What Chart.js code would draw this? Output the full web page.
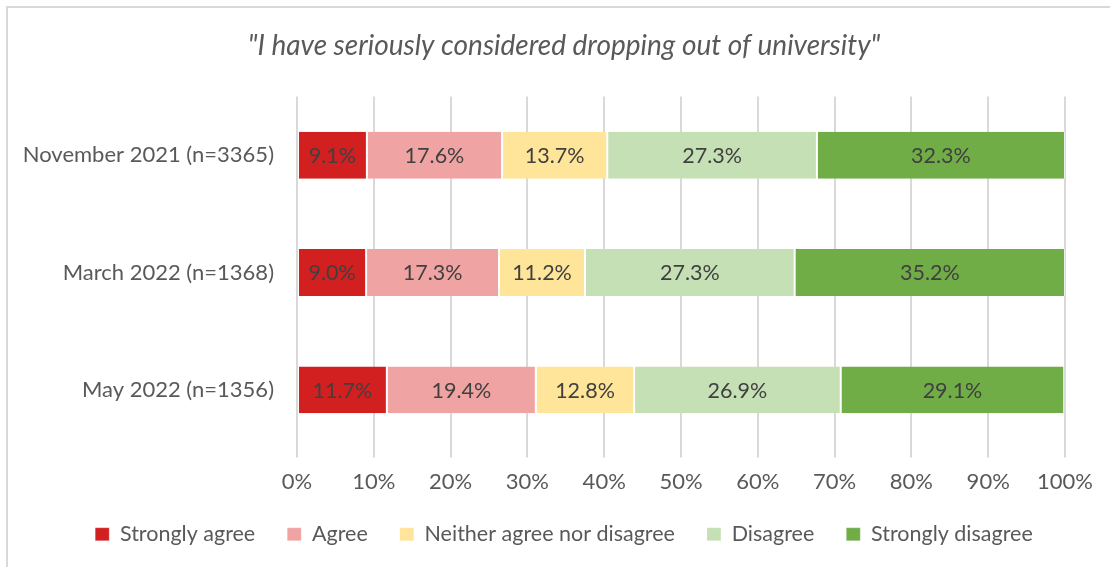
<!DOCTYPE html>
<html lang="en">
<head>
  <meta charset="UTF-8" />
  <title>Dropping out of university</title>
  <script src="https://cdn.jsdelivr.net/npm/chart.js"></script>
  <style>
    body {
      margin: 0;
      background: #fff;
    }
    .frame {
      position: absolute;
      left: 6px;
      top: 6px;
      width: 1104px;
      height: 561px;
      border-top: 2px solid #d9d9d9;
      border-left: 2px solid #d9d9d9;
      box-sizing: border-box;
    }
    .wrap {
      position: absolute;
      left: 0;
      top: 0;
      width: 1110px;
      height: 567px;
    }
  </style>
</head>
<body>
  <div class="frame"></div>
  <div class="wrap"><canvas id="chart"></canvas></div>

  <script>
    // Survey waves (top to bottom)
    const waves = ["November 2021 (n=3365)", "March 2022 (n=1368)", "May 2022 (n=1356)"];

    // Response shares in % per wave
    const stronglyAgree    = [9.1, 9.0, 11.7];
    const agree            = [17.6, 17.3, 19.4];
    const neither          = [13.7, 11.2, 12.8];
    const disagree         = [27.3, 27.3, 26.9];
    const stronglyDisagree = [32.3, 35.2, 29.1];

    const seriesNames  = ["Strongly agree", "Agree", "Neither agree nor disagree", "Disagree", "Strongly disagree"];
    const seriesValues = [stronglyAgree, agree, neither, disagree, stronglyDisagree];
    const seriesColors = ["#d21f20", "#f0a3a3", "#fee599", "#c5e0b4", "#70ad47"];

    const textGrey = "#595959";
    const fontFamily = "Lato, 'Open Sans', sans-serif";

    // draws the percentage text in the middle of every segment
    const barLabels = {
      id: "barLabels",
      afterDatasetsDraw(chart) {
        const ctx = chart.ctx;
        ctx.save();
        ctx.font = "21.5px " + fontFamily;
        ctx.fillStyle = "#404040";
        ctx.textAlign = "center";
        ctx.textBaseline = "middle";
        chart.data.datasets.forEach((ds, i) => {
          chart.getDatasetMeta(i).data.forEach((bar, j) => {
            const p = bar.getProps(["x", "y", "base"], true);
            ctx.fillText(ds.data[j].toFixed(1) + "%", (p.x + p.base) / 2, p.y + 1);
          });
        });
        ctx.restore();
      }
    };

    new Chart(document.getElementById("chart"), {
      type: "bar",
      data: {
        labels: waves,
        datasets: seriesNames.map((name, i) => ({
          label: name,
          data: seriesValues[i],
          backgroundColor: seriesColors[i],
          borderColor: "rgba(255,255,255,0.5)",
          borderWidth: { left: 1, right: 1 },
          borderSkipped: false,
          barPercentage: 0.4,
          categoryPercentage: 1
        }))
      },
      options: {
        indexAxis: "y",
        responsive: true,
        maintainAspectRatio: false,
        animation: false,
        layout: { padding: { left: 18, right: 0, top: 0, bottom: 12 } },
        scales: {
          x: {
            stacked: true,
            min: 0,
            max: 100,
            border: { display: false },
            grid: { color: "#d9d9d9", lineWidth: 2, tickLength: 9 },
            ticks: {
              stepSize: 10,
              padding: 11,
              color: textGrey,
              font: { size: 22, family: fontFamily },
              callback: v => v + "%"
            },
            afterFit(scale) { scale.height = 43; }
          },
          y: {
            stacked: true,
            border: { display: false },
            grid: { display: false, drawTicks: false },
            ticks: {
              padding: 23,
              color: textGrey,
              font: { size: 22, family: fontFamily }
            },
            afterFit(scale) { scale.width = 279; }
          },
          // empty right axis, only keeps space free right of the bars
          yRight: {
            position: "right",
            border: { display: false },
            grid: { display: false, drawTicks: false },
            ticks: { display: false },
            afterFit(scale) { scale.width = 45; }
          }
        },
        plugins: {
          title: {
            display: true,
            text: "\"I have seriously considered dropping out of university\"",
            color: textGrey,
            font: { size: 28, style: "italic", weight: "normal", family: fontFamily },
            padding: { top: 29, bottom: 34 }
          },
          legend: {
            position: "bottom",
            labels: {
              boxWidth: 14,
              boxHeight: 13,
              padding: 32,
              color: textGrey,
              font: { size: 21.5, family: fontFamily }
            }
          },
          tooltip: { enabled: false }
        }
      },
      plugins: [barLabels]
    });
  </script>
</body>
</html>
